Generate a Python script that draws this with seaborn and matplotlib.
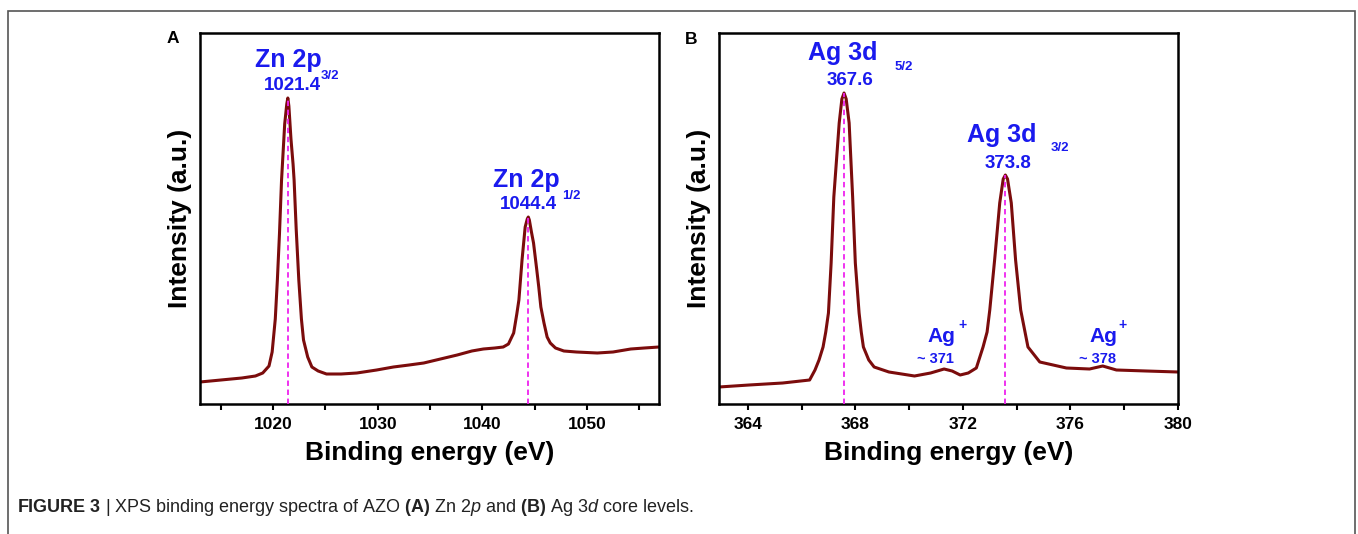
import numpy as np
import pandas as pd
import matplotlib
matplotlib.use("Agg")
import matplotlib.pyplot as plt
from matplotlib.patches import Rectangle
from matplotlib.ticker import MultipleLocator
import seaborn as sns

# panel A: Zn 2p spectrum
zn_energy = [1013.0, 1015.0, 1017.0, 1018.3, 1019.0, 1019.6, 1019.9, 1020.2, 1020.4, 1020.6,
             1020.8, 1021.1, 1021.3, 1021.4, 1021.5, 1021.7, 1021.9, 1022.0, 1022.2, 1022.45,
             1022.7, 1022.9, 1023.3, 1023.7, 1024.3, 1025.1, 1026.5, 1028.0, 1029.9, 1031.5,
             1033.0, 1034.4, 1036.0, 1037.6, 1039.0, 1040.1, 1041.2, 1042.0, 1042.5, 1043.0,
             1043.3, 1043.5, 1043.8, 1044.1, 1044.3, 1044.4, 1044.5, 1044.7, 1044.9, 1045.2,
             1045.4, 1045.6, 1045.9, 1046.2, 1046.5, 1047.0, 1047.8, 1049.0, 1051.0, 1052.5,
             1054.2, 1055.5, 1056.9]
zn_intensity = [22, 24, 26, 28, 31, 38, 52, 85, 124, 170,
                224, 280, 300, 306, 298, 265, 240, 224, 175, 124,
                85, 64, 47, 37, 33, 30, 30, 31, 34, 37,
                39, 41, 45, 49, 53, 55, 56, 57, 60, 71,
                90, 104, 144, 177, 185, 187, 184, 172, 161, 135,
                117, 97, 81, 67, 61, 56, 53, 52, 51, 52,
                55, 56, 57]
zn_peaks = [1021.4, 1044.4]
zn_peak_heights = [306, 187]
zn_labels = ["1021.4", "1044.4"]
zn_sub = ["3/2", "1/2"]

# panel B: Ag 3d spectrum
ag_energy = [362.93, 364.05, 365.3, 366.3, 366.5, 366.65, 366.8, 366.9, 367.0, 367.1,
             367.2, 367.4, 367.5, 367.58, 367.66, 367.77, 367.9, 368.0, 368.14, 368.22,
             368.3, 368.5, 368.7, 369.25, 370.2, 370.8, 371.3, 371.6, 371.9, 372.2,
             372.5, 372.75, 372.9, 373.0, 373.18, 373.37, 373.5, 373.58, 373.66, 373.8,
             373.96, 374.15, 374.42, 374.86, 375.85, 376.71, 377.2, 377.71, 378.82, 380.0]
ag_intensity = [17, 19, 21, 24, 34, 44, 57, 72, 91, 141,
                207, 281, 305, 311, 305, 281, 207, 141, 91, 72,
                57, 44, 37, 32, 28, 31, 35, 33, 29, 31,
                36, 57, 72, 94, 144, 201, 225, 229, 225, 201,
                144, 94, 57, 42, 36, 35, 38, 34, 33, 32]
ag_peaks = [367.58, 373.58]
ag_peak_heights = [311, 229]
ag_labels = ["367.6", "373.8"]
ag_sub = ["5/2", "3/2"]
ag_ion_labels = ["~ 371", "~ 378"]

sns.set_theme(style="white")
plt.rcParams["font.family"] = ["Liberation Sans", "DejaVu Sans"]
plt.rcParams["text.color"] = "black"
plt.rcParams["axes.labelcolor"] = "black"
plt.rcParams["xtick.color"] = "black"
plt.rcParams["mathtext.fontset"] = "custom"
plt.rcParams["mathtext.rm"] = "Liberation Sans"
plt.rcParams["mathtext.bf"] = "Liberation Sans:bold"
plt.rcParams["mathtext.it"] = "Liberation Sans:italic"

W, H = 1358, 534
fig = plt.figure(figsize=(W / 100, H / 100), dpi=100)
fig.patch.set_facecolor("white")

def px_axes(left, right, top, bottom):
    return fig.add_axes([left / W, 1 - bottom / H, (right - left) / W, (bottom - top) / H])

ax_a = px_axes(200, 659, 33, 404)
ax_b = px_axes(719, 1178, 33, 404)

line_col = "#7b0c0c"
dash_col = "#ee22ee"
blue = "#1a1aee"

df_a = pd.DataFrame({"energy": zn_energy, "intensity": zn_intensity})
df_b = pd.DataFrame({"energy": ag_energy, "intensity": ag_intensity})
sns.lineplot(data=df_a, x="energy", y="intensity", ax=ax_a, color=line_col, lw=2.2)
sns.lineplot(data=df_b, x="energy", y="intensity", ax=ax_b, color=line_col, lw=2.2)

ax_a.vlines(zn_peaks, 0, zn_peak_heights, colors=dash_col, linestyles=(0, (3, 2)), lw=1.3, zorder=3)
ax_b.vlines(ag_peaks, 0, ag_peak_heights, colors=dash_col, linestyles=(0, (3, 2)), lw=1.3, zorder=3)

ax_a.set_xlim(1013.0, 1056.9)
ax_b.set_xlim(362.93, 380.0)
ax_a.xaxis.set_major_locator(MultipleLocator(10))
ax_a.xaxis.set_minor_locator(MultipleLocator(5))
ax_b.xaxis.set_major_locator(MultipleLocator(4))
ax_b.xaxis.set_minor_locator(MultipleLocator(2))

for ax in (ax_a, ax_b):
    ax.set_ylim(0, 371)
    ax.set_yticks([])
    for s in ax.spines.values():
        s.set_color("black")
        s.set_linewidth(1.8)
    ax.tick_params(axis="x", which="both", direction="out", length=4.5, width=1.5,
                   bottom=True, top=False, color="black")
    ax.tick_params(axis="x", which="major", labelsize=12.5, pad=5, labelcolor="black")
    for lab in ax.get_xticklabels():
        lab.set_fontweight("bold")
    ax.set_xlabel("Binding energy (eV)", fontsize=19, fontweight="bold", labelpad=6)
    ax.set_ylabel("Intensity (a.u.)", fontsize=19, fontweight="bold", labelpad=6)

# peak annotations, panel A
ax_a.text(1021.4, 337, "Zn 2p", color=blue, fontsize=18, fontweight="bold", ha="center", va="baseline")
ax_a.text(1021.8, 314, zn_labels[0], color=blue, fontsize=13.5, fontweight="bold", ha="center", va="baseline")
ax_a.text(1024.5, 325, zn_sub[0], color=blue, fontsize=9.5, fontweight="bold", ha="left", va="baseline")
ax_a.text(1044.2, 217, "Zn 2p", color=blue, fontsize=18, fontweight="bold", ha="center", va="baseline")
ax_a.text(1044.4, 195, zn_labels[1], color=blue, fontsize=13.5, fontweight="bold", ha="center", va="baseline")
ax_a.text(1047.6, 205, zn_sub[1], color=blue, fontsize=9.5, fontweight="bold", ha="left", va="baseline")

# peak annotations, panel B
ax_b.text(367.54, 344, "Ag 3d", color=blue, fontsize=18, fontweight="bold", ha="center", va="baseline")
ax_b.text(367.8, 319, ag_labels[0], color=blue, fontsize=13.5, fontweight="bold", ha="center", va="baseline")
ax_b.text(369.8, 337, ag_sub[0], color=blue, fontsize=9.5, fontweight="bold", ha="center", va="center")
ax_b.text(373.45, 262, "Ag 3d", color=blue, fontsize=18, fontweight="bold", ha="center", va="baseline")
ax_b.text(373.67, 236, ag_labels[1], color=blue, fontsize=13.5, fontweight="bold", ha="center", va="baseline")
ax_b.text(375.6, 256, ag_sub[1], color=blue, fontsize=9.5, fontweight="bold", ha="center", va="center")

for xc, xp, xs, lab in [(371.22, 372.0, 370.98, ag_ion_labels[0]),
                        (377.22, 377.94, 377.0, ag_ion_labels[1])]:
    ax_b.text(xc, 62, "Ag", color=blue, fontsize=15, fontweight="bold", ha="center", va="baseline")
    ax_b.text(xp, 79, "+", color=blue, fontsize=10, fontweight="bold", ha="center", va="center")
    ax_b.text(xs, 41, lab, color=blue, fontsize=10.5, fontweight="bold", ha="center", va="baseline")

# panel letters
fig.text(173 / W, 1 - 38.5 / H, "A", fontsize=12.5, fontweight="bold", ha="center", va="center")
fig.text(691 / W, 1 - 39 / H, "B", fontsize=12.5, fontweight="bold", ha="center", va="center")

# outer frame
fig.patches.append(Rectangle((8 / W, -0.05), (1355 - 8) / W, 1.05 - 11 / H,
                             transform=fig.transFigure, fill=False, edgecolor="#555555", lw=1.2))

# caption
fig.text(17 / W, 1 - 512 / H,
         r"$\bf{FIGURE\ 3}$ | XPS binding energy spectra of AZO $\bf{(A)}$ Zn $\it{2p}$ and $\bf{(B)}$ Ag $\it{3d}$ core levels.",
         fontsize=13, color="#222222", ha="left", va="baseline")

fig.savefig("out.png", dpi=100)
